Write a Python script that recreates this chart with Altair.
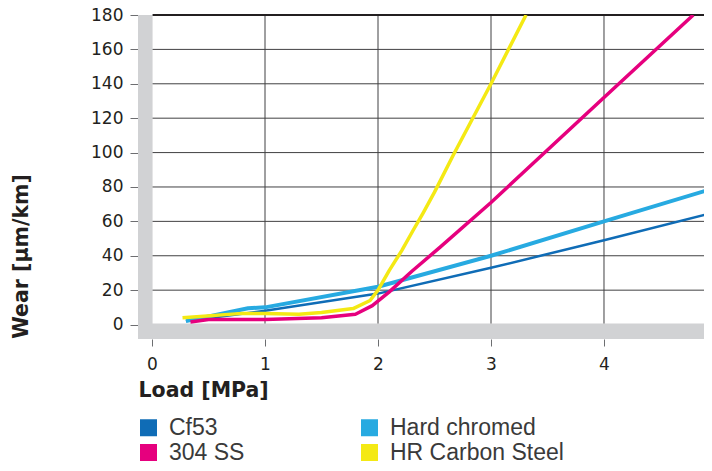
import altair as alt
import pandas as pd

# ---- data ----
series_names = ["Cf53", "Hard chromed", "304 SS", "HR Carbon Steel"]
series_widths = [2.5, 4, 3.5, 3.5]
# legend grid is filled column by column: col 1 = Cf53, 304 SS; col 2 = Hard chromed, HR Carbon Steel
legend_order = ["Cf53", "304 SS", "Hard chromed", "HR Carbon Steel"]
legend_colors = ["#0f6cb6", "#e6007e", "#27aae1", "#f4e914"]

cf53_x = [0.30, 1.0, 2.0, 3.0, 4.0, 4.96]
cf53_y = [2.0, 8.0, 18.0, 33.0, 49.0, 65.0]

hc_x = [0.30, 0.85, 1.0, 2.0, 3.0, 4.0, 4.96]
hc_y = [2.0, 9.5, 10.0, 22.0, 40.0, 60.0, 79.0]

ss_x = [0.34, 0.5, 1.0, 1.5, 1.8, 1.95, 2.1, 2.3, 2.55, 3.0, 4.0, 4.79]
ss_y = [1.5, 3.0, 3.0, 4.0, 6.0, 11.0, 19.0, 31.0, 45.0, 71.0, 132.0, 180.0]

hr_x = [0.27, 0.8, 1.0, 1.3, 1.5, 1.78, 1.93, 2.0, 2.1, 2.21, 2.31, 2.4, 2.5, 2.67, 3.0, 3.31]
hr_y = [4.0, 6.5, 6.5, 6.0, 7.0, 9.3, 14.0, 20.0, 31.5, 43.0, 54.7, 65.0, 77.0, 99.0, 140.0, 180.0]

x_ticks = [0, 1, 2, 3, 4]
y_ticks = [0, 20, 40, 60, 80, 100, 120, 140, 160, 180]
x_domain = [-0.124, 4.885]
y_domain = [-8.4, 180]

rows = []
for name, xs_, ys_ in [("Cf53", cf53_x, cf53_y), ("Hard chromed", hc_x, hc_y),
                       ("304 SS", ss_x, ss_y), ("HR Carbon Steel", hr_x, hr_y)]:
    for i, (a, b) in enumerate(zip(xs_, ys_)):
        rows.append({"series": name, "load": a, "wear": b, "order": i})
df = pd.DataFrame(rows)

xs = alt.Scale(domain=x_domain, nice=False, zero=False)
ys = alt.Scale(domain=y_domain, nice=False, zero=False)
cscale = alt.Scale(domain=legend_order, range=legend_colors)

x_axis = alt.Axis(values=x_ticks, grid=False, domain=False, tickSize=7,
                  tickColor="#6d6e71", labelFont="DejaVu Sans", labelFontSize=17,
                  labelColor="#231f20", labelPadding=10, labelOverlap=False,
                  title="Load [MPa]",
                  titleFont="DejaVu Sans", titleFontSize=20.5, titleFontWeight="bold",
                  titleColor="#231f20", titleX=0, titleY=57, titleAlign="left",
                  titleBaseline="alphabetic", format="d")
y_axis = alt.Axis(values=y_ticks, grid=False, domain=False, tickSize=8,
                  tickColor="#6d6e71", labelFont="DejaVu Sans", labelFontSize=17,
                  labelColor="#231f20", labelPadding=7, labelOverlap=False,
                  labelFlush=False, title="Wear [µm/km]",
                  titleFont="DejaVu Sans", titleFontSize=20.5, titleFontWeight="bold",
                  titleColor="#231f20", titleAngle=270, titleX=-111, titleY=241,
                  titleAlign="center", titleBaseline="alphabetic", format="d")


def X(f):
    return alt.X(f, scale=xs, axis=x_axis)


def Y(f):
    return alt.Y(f, scale=ys, axis=y_axis)


legend_color = alt.Color(
    "series:N",
    scale=cscale,
    legend=alt.Legend(
        title=None, orient="none", legendX=-1, legendY=401, columns=2,
        columnPadding=113, rowPadding=1, padding=0,
        symbolType="square", symbolSize=289, symbolStrokeWidth=0, symbolOpacity=1,
        labelFont="Liberation Sans", labelFontSize=23, labelFontWeight="normal",
        labelColor="#3a3a3a", labelOffset=9, labelLimit=300,
    ),
)
line_color = alt.Color("series:N", scale=cscale, legend=None)

base = alt.Chart(df)

# grey bands
band_df = pd.DataFrame({
    "x1": [x_domain[0], x_domain[0]], "x2": [0.005, x_domain[1]],
    "y1": [y_domain[0], y_domain[0]], "y2": [180, 0.6],
})
bands = alt.Chart(band_df).mark_rect(color="#d1d2d4").encode(
    x=X("x1:Q"), x2="x2:Q", y=Y("y1:Q"), y2="y2:Q")

vgrid_df = pd.DataFrame({"x": x_ticks[1:], "y1": [0.6] * 4, "y2": [180] * 4})
vgrid = alt.Chart(vgrid_df).mark_rule(color="#414042", strokeWidth=1).encode(
    x=X("x:Q"), y=Y("y1:Q"), y2="y2:Q")

hgrid_df = pd.DataFrame({"y": y_ticks[1:-1], "x1": [0.005] * 8, "x2": [x_domain[1]] * 8})
hgrid = alt.Chart(hgrid_df).mark_rule(color="#414042", strokeWidth=1).encode(
    y=Y("y:Q"), x=X("x1:Q"), x2="x2:Q")

top_df = pd.DataFrame({"y": [180], "x1": [0.005], "x2": [x_domain[1]]})
topline = alt.Chart(top_df).mark_rule(color="#231f20", strokeWidth=1.8).encode(
    y=Y("y:Q"), x=X("x1:Q"), x2="x2:Q")

# invisible square points that carry the legend (filled square swatches)
legend_layer = base.mark_point(filled=True, shape="square", opacity=0).encode(
    x=X("load:Q"), y=Y("wear:Q"), color=legend_color)

lines = []
for name, w in zip(series_names, series_widths):
    lines.append(
        base.transform_filter(alt.datum.series == name)
        .mark_line(strokeWidth=w, clip=True, strokeJoin="round")
        .encode(x=X("load:Q"), y=Y("wear:Q"), color=line_color, order="order:Q")
    )

chart = alt.layer(bands, vgrid, hgrid, topline, legend_layer, *lines).properties(
    width=566, height=324,
    autosize=alt.AutoSizeParams(type="none"),
    padding={"left": 130, "top": 7, "right": 0, "bottom": 124},
).configure_view(stroke=None)

chart.save("out.html", embed_options={"renderer": "svg", "actions": False})
